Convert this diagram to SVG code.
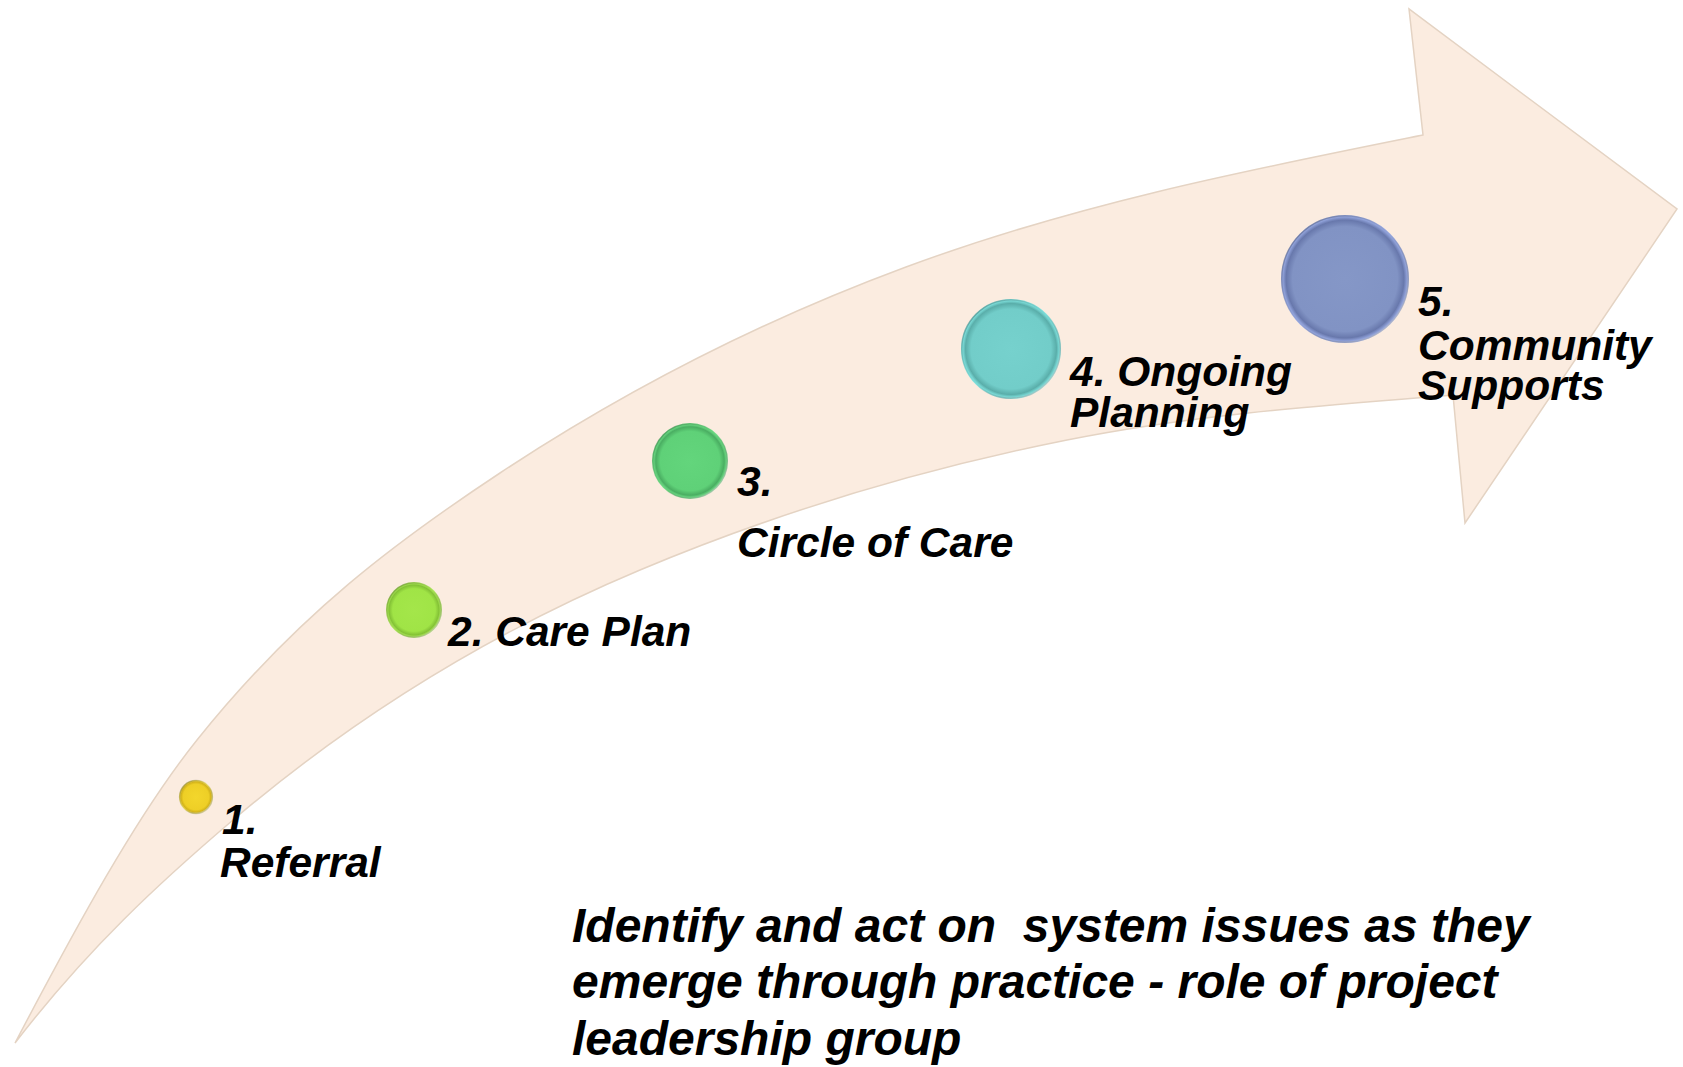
<svg xmlns="http://www.w3.org/2000/svg" width="1683" height="1067" viewBox="0 0 1683 1067">
  <defs>
    <style>
      .lbl { font-family: "Liberation Sans", Arial, sans-serif; font-weight: bold; font-style: italic; font-size: 42.5px; fill: #000; }
      .note { font-family: "Liberation Sans", Arial, sans-serif; font-weight: bold; font-style: italic; font-size: 48px; fill: #000; white-space: pre; }
      .arrow { fill: #fbece0; stroke: #e4d3c3; stroke-width: 1.5; }
    </style>
    <linearGradient id="rim" x1="0" y1="0" x2="1" y2="1">
      <stop offset="0" stop-color="#000" stop-opacity="0.35"/>
      <stop offset="0.5" stop-color="#000" stop-opacity="0.05"/>
      <stop offset="1" stop-color="#fff" stop-opacity="0.75"/>
    </linearGradient>
    <radialGradient id="g1" cx="0.5" cy="0.5" r="0.5">
      <stop offset="0" stop-color="#f3d62c"/>
      <stop offset="0.75" stop-color="#eecf26"/>
      <stop offset="0.88" stop-color="#d4b41a"/>
      <stop offset="1" stop-color="#fff27a"/>
    </radialGradient>
    <radialGradient id="g2" cx="0.5" cy="0.5" r="0.5">
      <stop offset="0" stop-color="#a4e64a"/>
      <stop offset="0.76" stop-color="#a0e446"/>
      <stop offset="0.89" stop-color="#84c236"/>
      <stop offset="1" stop-color="#c4ff6c"/>
    </radialGradient>
    <radialGradient id="g3" cx="0.5" cy="0.5" r="0.5">
      <stop offset="0" stop-color="#63d57c"/>
      <stop offset="0.78" stop-color="#5fd178"/>
      <stop offset="0.9" stop-color="#4aae62"/>
      <stop offset="1" stop-color="#7ef596"/>
    </radialGradient>
    <radialGradient id="g4" cx="0.5" cy="0.5" r="0.5">
      <stop offset="0" stop-color="#76d1cd"/>
      <stop offset="0.8" stop-color="#72cdc9"/>
      <stop offset="0.91" stop-color="#5aaeaa"/>
      <stop offset="1" stop-color="#8ef6f2"/>
    </radialGradient>
    <radialGradient id="g5" cx="0.5" cy="0.5" r="0.5">
      <stop offset="0" stop-color="#8597c7"/>
      <stop offset="0.82" stop-color="#8193c4"/>
      <stop offset="0.92" stop-color="#6878ac"/>
      <stop offset="1" stop-color="#a6b8f2"/>
    </radialGradient>
  </defs>

  <rect width="1683" height="1067" fill="#ffffff"/>

  <g id="arrow-backdrop">
    <path class="arrow" d="M15,1043
      C75.7,927.7 136.3,815.8 197,740
      C298,613.7 399,539.7 500,473
      C635.3,383.7 770.7,317.1 906,267
      C1078.3,203.2 1250.7,169.5 1423,135
      L1409,9 L1677,209 L1465,523 L1453,395
      C1324.3,405.3 1195.7,414.3 1067,440
      C924.7,468.5 782.3,510.2 640,570
      C504.3,627 368.7,704.7 233,820
      C160.3,881.8 87.7,948.5 15,1043 Z"/>
  </g>

  <g id="connectors"></g>

  <g id="step1">
    <circle cx="196" cy="797" r="17" fill="url(#g1)"/>
    <circle cx="196" cy="797" r="16.4" fill="none" stroke="url(#rim)" stroke-width="1.5"/>
    <text class="lbl" x="222" y="834">1.</text>
    <text class="lbl" x="220" y="877">Referral</text>
  </g>

  <g id="step2">
    <circle cx="414" cy="610" r="28" fill="url(#g2)"/>
    <circle cx="414" cy="610" r="27.3" fill="none" stroke="url(#rim)" stroke-width="1.5"/>
    <text class="lbl" x="448" y="646">2. Care Plan</text>
  </g>

  <g id="step3">
    <circle cx="690" cy="461" r="38" fill="url(#g3)"/>
    <circle cx="690" cy="461" r="37.3" fill="none" stroke="url(#rim)" stroke-width="1.5"/>
    <text class="lbl" x="737" y="496">3.</text>
    <text class="lbl" x="737" y="557">Circle of Care</text>
  </g>

  <g id="step4">
    <circle cx="1011" cy="349" r="50" fill="url(#g4)"/>
    <circle cx="1011" cy="349" r="49.3" fill="none" stroke="url(#rim)" stroke-width="1.5"/>
    <text class="lbl" x="1070" y="386">4. Ongoing</text>
    <text class="lbl" x="1070" y="427">Planning</text>
  </g>

  <g id="step5">
    <circle cx="1345" cy="279" r="64" fill="url(#g5)"/>
    <circle cx="1345" cy="279" r="63.3" fill="none" stroke="url(#rim)" stroke-width="1.5"/>
    <text class="lbl" x="1418" y="316">5.</text>
    <text class="lbl" x="1418" y="360">Community</text>
    <text class="lbl" x="1418" y="400">Supports</text>
  </g>

  <g id="note">
    <text class="note" x="572" y="942" xml:space="preserve">Identify and act on  system issues as they</text>
    <text class="note" x="572" y="998">emerge through practice - role of project</text>
    <text class="note" x="572" y="1055">leadership group</text>
  </g>
</svg>
